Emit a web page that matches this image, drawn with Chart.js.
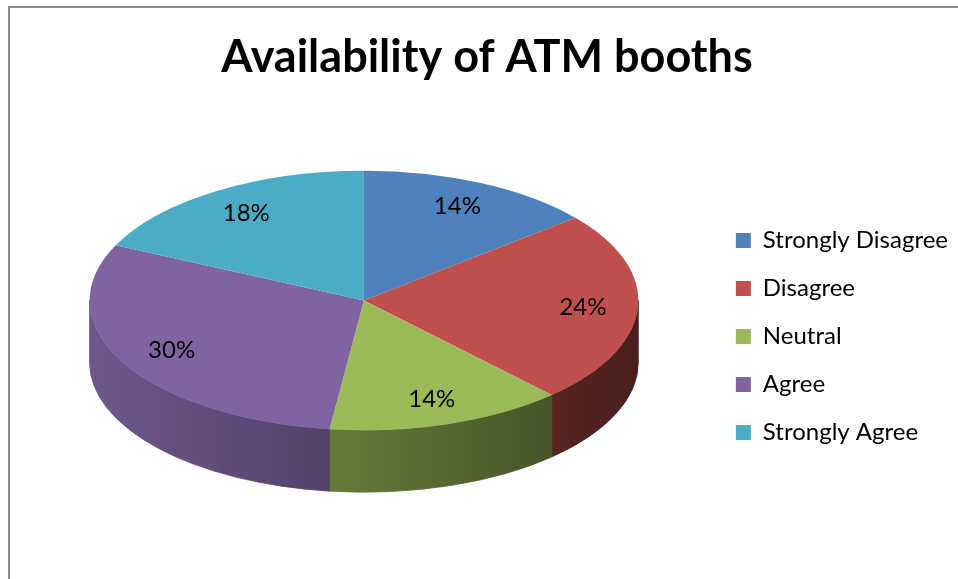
<!DOCTYPE html>
<html lang="es">
<head>
<meta charset="utf-8">
<title>Availability of ATM booths</title>
<script src="https://cdn.jsdelivr.net/npm/chart.js@4.4.1/dist/chart.umd.min.js"></script>
<style>
  html, body { margin: 0; padding: 0; background: #ffffff; }
  /* Marco gris del área del gráfico (solo se ven los bordes izquierdo y superior) */
  .marco { position: relative; width: 958px; height: 579px; overflow: hidden; }
  .marco::before {
    content: '';
    position: absolute;
    left: 8px; top: 6px;
    width: 1200px; height: 1200px;
    border-left: 2px solid #8c8c8c;
    border-top: 2px solid #8c8c8c;
  }
  canvas { position: absolute; left: 0; top: 0; }
</style>
</head>
<body>
<div class="marco"><canvas id="graficaCajeros" width="958" height="579"></canvas></div>
<script>
// Categorías de la encuesta (orden de la leyenda y de los sectores)
const categorias = ['Strongly Disagree', 'Disagree', 'Neutral', 'Agree', 'Strongly Agree'];
// Porcentaje de respuestas de cada categoría
const porcentajes = [14, 24, 14, 30, 18];
// Colores de la cara superior de cada sector (paleta clásica de Office)
const colores = ['#4F81BD', '#C0504D', '#9BBB59', '#8064A2', '#4BACC6'];

// Tipografía común para todos los textos
const FUENTE = 'Lato';

/**
 * Oscurece un color HEX multiplicando sus canales por un factor (0..1).
 */
function oscurecer(hex, factor) {
    const n = parseInt(hex.slice(1), 16);
    const r = Math.round(((n >> 16) & 255) * factor);
    const g = Math.round(((n >> 8) & 255) * factor);
    const b = Math.round((n & 255) * factor);
    return `rgb(${r}, ${g}, ${b})`;
}

/**
 * Plugin que da el aspecto de pastel 3D:
 * - dibuja la pared lateral (grosor) de los sectores que quedan al frente
 * - inclina la cara superior aplicando una escala al contexto
 * - escribe el porcentaje de cada sector sobre la cara superior
 */
const pastel3D = {
    id: 'pastel3D',

    // Calcula la elipse de la cara superior a partir del círculo que Chart.js calculó
    geometria(chart, opts) {
        const arco = chart.getDatasetMeta(0).data[0];
        const r0 = arco.outerRadius;
        return {
            x0: arco.x,
            y0: arco.y,
            r0: r0,
            cx: arco.x,
            cy: arco.y + r0 * opts.desplazamientoY,
            rx: r0 * opts.escalaX,
            ry: r0 * opts.escalaY,
            grosor: r0 * opts.grosor
        };
    },

    beforeDatasetsDraw(chart, args, opts) {
        const ctx = chart.ctx;
        const g = this.geometria(chart, opts);
        const arcos = chart.getDatasetMeta(0).data;

        // Pared lateral: solo la parte frontal (ángulos entre 0 y PI) es visible
        arcos.forEach((arco, i) => {
            const ini = Math.max(arco.startAngle, 0);
            const fin = Math.min(arco.endAngle, Math.PI);
            if (fin <= ini) return;

            // Degradado horizontal: más claro a la izquierda, más oscuro a la derecha
            const degradado = ctx.createLinearGradient(g.cx - g.rx, 0, g.cx + g.rx, 0);
            degradado.addColorStop(0, oscurecer(colores[i], opts.luzIzquierda));
            degradado.addColorStop(1, oscurecer(colores[i], opts.luzDerecha));

            ctx.save();
            ctx.beginPath();
            ctx.ellipse(g.cx, g.cy, g.rx, g.ry, 0, ini, fin, false);
            ctx.ellipse(g.cx, g.cy + g.grosor, g.rx, g.ry, 0, fin, ini, true);
            ctx.closePath();
            ctx.fillStyle = degradado;
            ctx.fill();
            // Un trazo fino del mismo color evita costuras blancas entre sectores
            ctx.strokeStyle = degradado;
            ctx.lineWidth = 0.8;
            ctx.stroke();
            ctx.restore();
        });

        // Inclina la cara superior: el círculo original se convierte en elipse
        ctx.save();
        ctx.translate(g.cx, g.cy);
        ctx.scale(g.rx / g.r0, g.ry / g.r0);
        ctx.translate(-g.x0, -g.y0);
    },

    afterDatasetsDraw(chart, args, opts) {
        const ctx = chart.ctx;
        // Quita la escala aplicada antes de dibujar los sectores
        ctx.restore();

        const g = this.geometria(chart, opts);
        const arcos = chart.getDatasetMeta(0).data;

        // Etiquetas de porcentaje dentro de cada sector
        ctx.save();
        ctx.font = `${opts.tamEtiqueta}px ${FUENTE}`;
        ctx.fillStyle = '#000000';
        ctx.textAlign = 'center';
        ctx.textBaseline = 'middle';
        arcos.forEach((arco, i) => {
            const medio = (arco.startAngle + arco.endAngle) / 2;
            const x = g.cx + g.rx * opts.radioEtiqueta * Math.cos(medio);
            const y = g.cy + g.ry * opts.radioEtiqueta * Math.sin(medio);
            ctx.fillText(`${porcentajes[i]}%`, x, y);
        });
        ctx.restore();
    }
};

function crearGrafica() {
    const ctx = document.getElementById('graficaCajeros').getContext('2d');

    new Chart(ctx, {
        type: 'pie',
        data: {
            labels: categorias,
            datasets: [{
                data: porcentajes,
                backgroundColor: colores,
                borderWidth: 0,
                clip: false
            }]
        },
        options: {
            responsive: false,
            animation: false,
            events: [],
            layout: {
                padding: { left: 16, right: 0, top: 0, bottom: 7 }
            },
            plugins: {
                title: {
                    display: true,
                    text: 'Availability of ATM booths',
                    color: '#000000',
                    font: { family: FUENTE, size: 45, weight: 'bold' },
                    padding: { top: 30, bottom: 17 }
                },
                legend: {
                    position: 'right',
                    fullSize: false,
                    labels: {
                        color: '#000000',
                        font: { family: FUENTE, size: 24 },
                        boxWidth: 15,
                        boxHeight: 15,
                        padding: 24
                    }
                },
                tooltip: { enabled: false },
                pastel3D: {
                    escalaX: 1.165,
                    escalaY: 0.551,
                    grosor: 0.263,
                    desplazamientoY: -0.153,
                    luzIzquierda: 0.87,
                    luzDerecha: 0.38,
                    radioEtiqueta: 0.8,
                    tamEtiqueta: 24
                }
            }
        },
        plugins: [pastel3D]
    });
}

// Espera a que la fuente esté lista para medir bien título y leyenda
Promise.all([
    document.fonts.load(`bold 45px ${FUENTE}`),
    document.fonts.load(`24px ${FUENTE}`)
]).then(crearGrafica, crearGrafica);
</script>
</body>
</html>
